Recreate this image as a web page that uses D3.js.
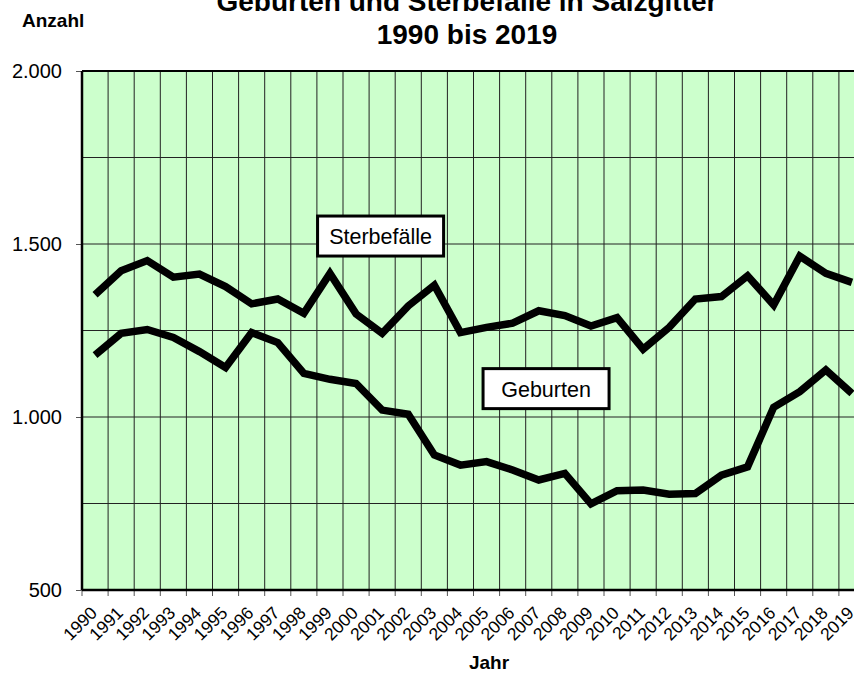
<!DOCTYPE html>
<html>
<head>
<meta charset="utf-8">
<script src="https://cdn.jsdelivr.net/npm/d3@7"></script>
<style>
  body { margin: 0; background: #fff; }
  svg { display: block; font-family: "Liberation Sans", Arial, sans-serif; }
</style>
</head>
<body>
<div id="chart"></div>
<script>
var years = ['1990','1991','1992','1993','1994','1995','1996','1997','1998','1999',
             '2000','2001','2002','2003','2004','2005','2006','2007','2008','2009',
             '2010','2011','2012','2013','2014','2015','2016','2017','2018','2019'];

var sterbefaelle = [1353, 1423, 1452, 1404, 1413, 1377, 1327, 1341, 1300, 1415,
                    1298, 1242, 1321, 1381, 1244, 1259, 1271, 1307, 1293, 1263,
                    1287, 1196, 1259, 1341, 1348, 1408, 1324, 1465, 1415, 1389];

var geburten = [1179, 1242, 1253, 1230, 1189, 1143, 1244, 1215, 1126, 1109,
                1097, 1020, 1008, 890, 861, 871, 847, 818, 837, 749,
                787, 789, 777, 779, 832, 856, 1028, 1073, 1136, 1068];

var yTicks = [500, 1000, 1500, 2000];
var yGrid = [750, 1000, 1250, 1500, 1750];

// Beschriftungen: Jahr + Anteil im Jahresfeld, Wert in der Mitte des Kastens
var seriesLabels = [
    {text: 'Sterbefälle', year: '2001', pos: 0.44, value: 1523},
    {text: 'Geburten', year: '2007', pos: 0.78, value: 1082}
];

var width = 854;
var height = 679;
var plotLeft = 82, plotRight = 865, plotTop = 71, plotBottom = 590;

var svg = d3.select('#chart')
    .append('svg')
    .attr('width', width)
    .attr('height', height);

var x = d3.scaleBand()
    .domain(years)
    .range([plotLeft, plotRight])
    .padding(0);

var y = d3.scaleLinear()
    .domain([500, 2000])
    .range([plotBottom, plotTop]);

// Hintergrund
svg.append('rect')
    .attr('x', plotLeft)
    .attr('y', plotTop)
    .attr('width', plotRight - plotLeft)
    .attr('height', plotBottom - plotTop)
    .attr('fill', '#ccffcc');

// Gitterlinien
svg.append('g')
    .selectAll('line')
    .data(years.slice(1))
    .enter()
    .append('line')
    .attr('x1', (d) => x(d))
    .attr('x2', (d) => x(d))
    .attr('y1', plotTop)
    .attr('y2', plotBottom)
    .attr('stroke', '#222')
    .attr('stroke-width', 1);

svg.append('g')
    .selectAll('line')
    .data(yGrid)
    .enter()
    .append('line')
    .attr('x1', plotLeft)
    .attr('x2', plotRight)
    .attr('y1', (d) => y(d))
    .attr('y2', (d) => y(d))
    .attr('stroke', '#222')
    .attr('stroke-width', 1);

// Achsen
var yAxis = d3.axisLeft(y)
    .tickValues(yTicks)
    .tickSize(6)
    .tickPadding(14)
    .tickFormat((d) => d3.format(',')(d).replace(/,/g, '.'));

var gy = svg.append('g')
    .attr('transform', 'translate(' + plotLeft + ',0)')
    .call(yAxis);
gy.select('.domain').remove();
gy.selectAll('text')
    .attr('font-size', 20)
    .attr('font-family', '"Liberation Sans", Arial, sans-serif')
    .attr('fill', '#000');
gy.selectAll('line').attr('stroke', '#555');

svg.append('g')
    .selectAll('line')
    .data(years)
    .enter()
    .append('line')
    .attr('x1', (d) => x(d))
    .attr('x2', (d) => x(d))
    .attr('y1', plotBottom)
    .attr('y2', plotBottom + 6)
    .attr('stroke', '#555');

svg.append('g')
    .selectAll('text')
    .data(years)
    .enter()
    .append('text')
    .attr('transform', (d) => 'translate(' + (x(d) + x.bandwidth() / 2 + 3) + ',' + (plotBottom + 24) + ') rotate(-45)')
    .attr('text-anchor', 'end')
    .attr('font-size', 17.5)
    .text((d) => d);

// Rahmen
svg.append('line')
    .attr('x1', plotLeft).attr('x2', plotRight)
    .attr('y1', plotTop).attr('y2', plotTop)
    .attr('stroke', '#000').attr('stroke-width', 2);
svg.append('line')
    .attr('x1', plotLeft).attr('x2', plotLeft)
    .attr('y1', plotTop).attr('y2', plotBottom)
    .attr('stroke', '#000').attr('stroke-width', 2.5);
svg.append('line')
    .attr('x1', plotLeft).attr('x2', plotRight)
    .attr('y1', plotBottom).attr('y2', plotBottom)
    .attr('stroke', '#000').attr('stroke-width', 2.5);

// Linien
var line = d3.line()
    .x((d, i) => x(years[i]) + x.bandwidth() / 2)
    .y((d) => y(d));

[sterbefaelle, geburten].forEach(function (series) {
    svg.append('path')
        .attr('d', line(series))
        .attr('fill', 'none')
        .attr('stroke', '#000')
        .attr('stroke-width', 7.5)
        .attr('stroke-linejoin', 'miter');
});

// Beschriftungskaesten
seriesLabels.forEach(function (l) {
    var cx = x(l.year) + l.pos * x.bandwidth();
    var cy = y(l.value);
    var g = svg.append('g');
    g.append('rect')
        .attr('x', cx - 63)
        .attr('y', cy - 20)
        .attr('width', 126)
        .attr('height', 40)
        .attr('fill', '#fff')
        .attr('stroke', '#000')
        .attr('stroke-width', 3);
    g.append('text')
        .attr('x', cx)
        .attr('y', cy + 8)
        .attr('text-anchor', 'middle')
        .attr('font-size', 21.5)
        .text(l.text);
});

// Titel
svg.append('text')
    .attr('x', 467)
    .attr('y', 11)
    .attr('text-anchor', 'middle')
    .attr('font-size', 28)
    .attr('font-weight', 'bold')
    .text('Geburten und Sterbefälle in Salzgitter');
svg.append('text')
    .attr('x', 467)
    .attr('y', 44)
    .attr('text-anchor', 'middle')
    .attr('font-size', 28)
    .attr('font-weight', 'bold')
    .text('1990 bis 2019');

svg.append('text')
    .attr('x', 22)
    .attr('y', 27)
    .attr('font-size', 19)
    .attr('font-weight', 'bold')
    .text('Anzahl');

svg.append('text')
    .attr('x', 489)
    .attr('y', 669)
    .attr('text-anchor', 'middle')
    .attr('font-size', 19)
    .attr('font-weight', 'bold')
    .text('Jahr');
</script>
</body>
</html>
